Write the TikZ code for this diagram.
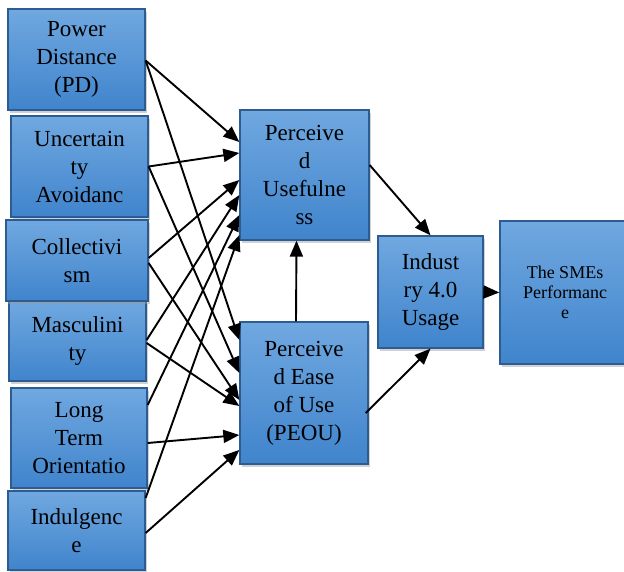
\documentclass[tikz,border=0pt]{standalone}
\usepackage{fontspec}
\setmainfont{Liberation Serif}
\newfontfamily\boxfont{Liberation Serif}
\usetikzlibrary{arrows.meta,shadows}

\definecolor{boxtop}{RGB}{112,168,224}
\definecolor{boxbot}{RGB}{64,132,204}
\definecolor{boxline}{RGB}{44,92,146}

\begin{document}
\begin{tikzpicture}[x=1pt,y=-1pt,
    box/.style={draw=boxline,line width=1.3pt,top color=boxtop,bottom color=boxbot,
        drop shadow={shadow xshift=2pt,shadow yshift=-3pt,fill=black!40,opacity=0.45},
        align=center,inner sep=0pt,font=\boxfont\fontsize{23}{28}\selectfont},
    arr/.style={line width=1.9pt,-{Triangle[length=16pt,width=13pt]}}]
            \useasboundingbox (0,0) rectangle (624,572);

            % cultural dimensions
            \node[box,minimum width=137,minimum height=101] (pd) at (76.5,59.5) {Power\\Distance\\(PD)};
            \node[box,minimum width=137,minimum height=101] (ua) at (79.5,166.5) {Uncertain\\ty\\Avoidanc};
            \node[box,minimum width=137,minimum height=80] (masc) at (77.5,341) {Masculini\\ty};
            \node[box,minimum width=142,minimum height=81] (col) at (77,260.5) {Collectivi\\sm};
            \node[box,minimum width=136,minimum height=100] (lto) at (79,438) {Long\\Term\\Orientatio};
            \node[box,minimum width=137,minimum height=79] (ind) at (76.5,530.5) {Indulgenc\\e};

            % TAM
            \node[box,minimum width=129,minimum height=130] (pu) at (304.5,175) {Perceive\\d\\Usefulne\\ss};
            \node[box,minimum width=128,minimum height=142] (peou) at (304,393) {Perceive\\d Ease\\of Use\\(PEOU)};
            \node[box,minimum width=105,minimum height=112] (use) at (430.5,292) {Indust\\ry 4.0\\Usage};
            \node[box,minimum width=130,minimum height=143,font=\boxfont\fontsize{18}{20}\selectfont] (sme) at (565,292.5) {The SMEs\\Performanc\\e};

            %arrows
                 \foreach \src/\a/\b/\c/\d in {pd/-1/33/-1/53, ua/0/22/0/20, col/2.5/-5/-2.5/-7,
                                               masc/1/-20/-2/-13, lto/33/-40/-5/-42, ind/32.5/-60/-2.5/-57}
                 {
                     \draw[arr] ([yshift=\a pt]\src.east) -- ([yshift=\b pt]pu.west);
                     \draw[arr] ([yshift=\c pt]\src.east) -- ([yshift=\d pt]peou.west);
                 }
            \draw[arr] ([yshift=10pt]pu.east) -- (use.north);
            \draw[arr] ([xshift=-8pt]peou.north) -- ([xshift=-8pt]pu.south);
            \draw[arr] ([xshift=-3pt,yshift=-20pt]peou.east) -- (use.south);
            \draw[arr] (use.east) -- (sme.west);
\end{tikzpicture}
\end{document}
